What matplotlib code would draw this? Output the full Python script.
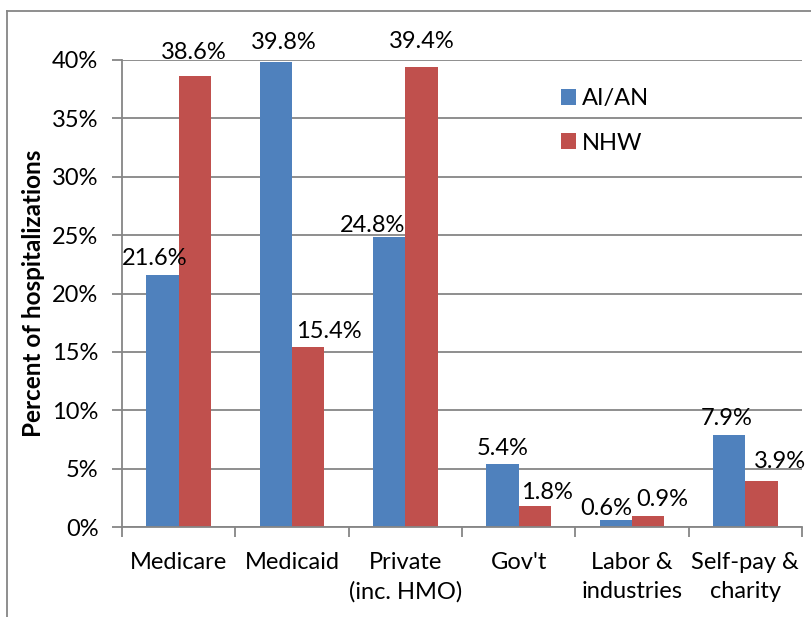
import matplotlib.pyplot as plt
from matplotlib.lines import Line2D

categories = ["Medicare", "Medicaid", "Private\n(inc. HMO)", "Gov't",
              "Labor &\nindustries", "Self-pay &\ncharity"]
aian = [21.6, 39.8, 24.8, 5.4, 0.6, 7.9]
nhw = [38.6, 15.4, 39.4, 1.8, 0.9, 3.9]
yticks = [0, 5, 10, 15, 20, 25, 30, 35, 40]

# hand-placed label nudges in pixels (dx, dy above bar top)
aian_off = [(-8, 10), (8, 13), (-17, 5), (0, 9), (-10, 5), (-2, 10)]
nhw_off = [(-1, 17), (21, 9), (0, 19), (12, 7), (14, 10), (18, 13)]

blue = "#4F81BD"
red = "#C0504D"
grey = "#868686"
fs = 17

plt.rcParams['font.family'] = ['Lato', 'DejaVu Sans']

fig = plt.figure(figsize=(8.11, 6.17), dpi=100)
ax = fig.add_axes([122 / 811, 1 - 527 / 617, 680 / 811, 467 / 617])

w = 1 / 3.5
x = list(range(len(categories)))
b1 = ax.bar([i - w / 2 for i in x], aian, w, color=blue, label="AI/AN", zorder=2)
b2 = ax.bar([i + w / 2 for i in x], nhw, w, color=red, label="NHW", zorder=2)

for bars, vals, offs in [(b1, aian, aian_off), (b2, nhw, nhw_off)]:
    for r, v, (dx, dy) in zip(bars, vals, offs):
        ax.annotate(f"{v:.1f}%", (r.get_x() + r.get_width() / 2, v),
                    xytext=(dx, dy), textcoords="offset pixels",
                    ha="center", va="baseline", fontsize=fs)

ax.set_xlim(-0.5, len(categories) - 0.5)
ax.set_ylim(0, 40)
ax.set_yticks(yticks)
ax.set_yticklabels([f"{t}%" for t in yticks])
ax.set_xticks(x)
ax.set_xticklabels(categories, fontsize=fs, linespacing=1.45)
ax.set_xticks([i - 0.5 for i in range(len(categories) + 1)], minor=True)
ax.tick_params(axis="x", which="major", length=0, pad=18)
ax.tick_params(axis="x", which="minor", length=7, color=grey, width=1.3)
ax.tick_params(axis="y", length=7, color=grey, width=1.3, pad=10, labelsize=fs)

ax.grid(axis="y", color=grey, linewidth=1.3, zorder=0)
ax.set_axisbelow(True)
for s in ["top", "right"]:
    ax.spines[s].set_visible(False)
for s in ["left", "bottom"]:
    ax.spines[s].set_color(grey)
    ax.spines[s].set_linewidth(1.3)

ax.set_ylabel("Percent of hospitalizations", fontsize=17.5, fontweight="bold", labelpad=5)

ax.legend(loc="upper left", bbox_to_anchor=(0.6456, 0.94), frameon=False,
          fontsize=fs, handlelength=0.65, handleheight=0.65, handletextpad=0.25,
          labelspacing=1.0, borderpad=0, borderaxespad=0)

# outer chart frame
fig.add_artist(Line2D([7 / 811, 1], [1 - 11 / 617] * 2, color=grey, linewidth=1.3))
fig.add_artist(Line2D([7 / 811] * 2, [0, 1 - 11 / 617], color=grey, linewidth=1.3))

fig.savefig("out.png", dpi=100)
